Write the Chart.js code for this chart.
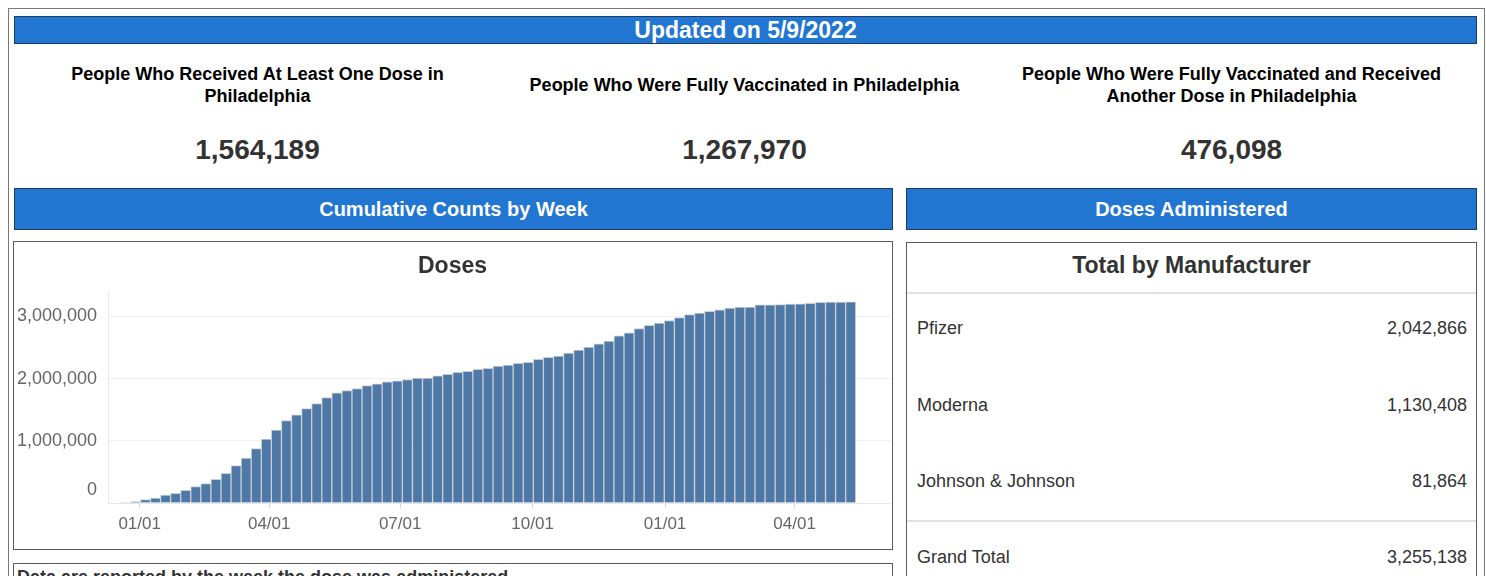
<!DOCTYPE html>
<html>
<head>
<meta charset="utf-8">
<script src="https://cdn.jsdelivr.net/npm/chart.js@4"></script>
<style>
	body { margin: 0; background: #fff; font-family: "Liberation Sans", Arial, sans-serif; }
	.abs { position: absolute; box-sizing: border-box; }
	.frame { left: 8px; top: 8px; width: 1477px; height: 600px; border: 1px solid #777; }
	.bluebar { background: #2176d2; border: 1px solid #1d3b63; color: #fff; font-weight: bold; text-align: center; }
	.kpi { width: 487px; text-align: center; }
	.kpi .ttl { height: 44px; display: flex; align-items: center; justify-content: center; font-size: 18px; font-weight: bold; line-height: 22px; color: #000; }
	.kpi .val { margin-top: 27px; font-size: 28px; font-weight: bold; color: #333; }
	.box { border: 1px solid #5a5a5a; background: #fff; }
	.row { left: 10px; right: 9px; font-size: 18px; color: #333; display: flex; justify-content: space-between; }
	.sep { left: 0; right: 0; height: 2px; background: #e2e2e2; }
</style>
</head>
<body>
<div class="abs frame"></div>

<div class="abs bluebar" style="left:14px;top:16px;width:1463px;height:28px;font-size:23px;line-height:26px;">Updated on 5/9/2022</div>

<div class="abs kpi" style="left:14px;top:63px;">
	<div class="ttl">People Who Received At Least One Dose in<br>Philadelphia</div>
	<div class="val" id="kpi1"></div>
</div>
<div class="abs kpi" style="left:501px;top:63px;">
	<div class="ttl">People Who Were Fully Vaccinated in Philadelphia</div>
	<div class="val" id="kpi2"></div>
</div>
<div class="abs kpi" style="left:988px;top:63px;">
	<div class="ttl">People Who Were Fully Vaccinated and Received<br>Another Dose in Philadelphia</div>
	<div class="val" id="kpi3"></div>
</div>

<div class="abs bluebar" style="left:14px;top:188px;width:879px;height:42px;font-size:20px;line-height:40px;">Cumulative Counts by Week</div>
<div class="abs bluebar" style="left:906px;top:188px;width:571px;height:42px;font-size:20px;line-height:40px;">Doses Administered</div>

<div class="abs box" style="left:13px;top:241px;width:880px;height:309px;">
	<canvas id="dose_chart" width="877" height="306"></canvas>
</div>

<div class="abs box" style="left:13px;top:563px;width:880px;height:60px;padding:3px 0 0 3px;font-size:18px;font-weight:bold;color:#333;">Data are reported by the week the dose was administered</div>

<div class="abs box" id="mfr_box" style="left:906px;top:242px;width:571px;height:400px;">
	<div class="abs" style="left:0;right:0;top:9px;text-align:center;font-size:23px;font-weight:bold;color:#333;">Total by Manufacturer</div>
	<div class="abs sep" style="top:49px;"></div>
	<div class="abs sep" style="top:277px;"></div>
</div>

<script>
// 상단 KPI
const kpiValues = [1564189, 1267970, 476098]

// 제조사별 합계
const mfrNames = ['Pfizer', 'Moderna', 'Johnson & Johnson', 'Grand Total']
const mfrDoses = [2042866, 1130408, 81864, 3255138]

// 주별 누적 접종 (첫 주 2020-12-22, 7일 간격)
const firstWeek = '2020-12-22'
const cumDoses = [
	8000, 20000, 54000, 81000, 129000, 156000, 205000, 264000, 312000, 382000,
	479000, 603000, 722000, 875000, 1030000, 1174000, 1325000, 1417000, 1519000, 1600000,
	1696000, 1772000, 1809000, 1842000, 1890000, 1917000, 1949000, 1966000, 1987000, 2008000,
	2010000, 2047000, 2068000, 2100000, 2116000, 2149000, 2165000, 2202000, 2218000, 2246000,
	2262000, 2310000, 2343000, 2364000, 2412000, 2461000, 2509000, 2558000, 2606000, 2687000,
	2736000, 2806000, 2859000, 2892000, 2935000, 2983000, 3032000, 3053000, 3081000, 3107000,
	3135000, 3150000, 3152000, 3188000, 3188000, 3190000, 3200000, 3205000, 3210000, 3226000,
	3230000, 3233000, 3236000
]

// x축 눈금
const tickDates = ['2021-01-01', '2021-04-01', '2021-07-01', '2021-10-01', '2022-01-01', '2022-04-01']
const tickLabels = ['01/01', '04/01', '07/01', '10/01', '01/01', '04/01']
const yTicks = [0, 1000000, 2000000, 3000000]

const fmt = n => n.toLocaleString('en-US')
const DAY = 86400000
const base = Date.parse('2021-01-01')
const dayOf = s => (Date.parse(s) - base) / DAY

document.getElementById('kpi1').textContent = fmt(kpiValues[0])
document.getElementById('kpi2').textContent = fmt(kpiValues[1])
document.getElementById('kpi3').textContent = fmt(kpiValues[2])

const rowTops = [75, 152, 228, 304]
const box = document.getElementById('mfr_box')
for (let i = 0; i < mfrNames.length; i++) {
	const r = document.createElement('div')
	r.className = 'abs row'
	r.style.top = rowTops[i] + 'px'
	r.innerHTML = '<span></span><span></span>'
	r.children[0].textContent = mfrNames[i]
	r.children[1].textContent = fmt(mfrDoses[i])
	box.appendChild(r)
}

const start = dayOf(firstWeek)
let points = []
for (let i = 0; i < cumDoses.length; i++) {
	points.push({ x: start + 7 * i, y: cumDoses[i] })
}
const tickDays = tickDates.map(dayOf)

const ctx = document.getElementById('dose_chart').getContext('2d')
const dose_chart = new Chart(ctx, {
	type: 'bar',
	data: {
		datasets: [{
			label: 'Doses',
			data: points,
			backgroundColor: '#4e79a7',
			borderColor: '#c8ced6',
			borderWidth: 1,
			barPercentage: 1,
			categoryPercentage: 1
		}]
	},
	options: {
		responsive: false,
		animation: false,
		layout: { padding: 0 },
		plugins: {
			legend: { display: false },
			tooltip: { enabled: false },
			title: {
				display: true,
				text: 'Doses',
				color: '#333',
				font: { family: 'Liberation Sans', size: 23, weight: 'bold' },
				padding: { top: 11, bottom: 11 }
			}
		},
		scales: {
			x: {
				type: 'linear',
				offset: false,
				min: -22,
				max: 522,
				afterBuildTicks: scale => { scale.ticks = tickDays.map(v => ({ value: v })) },
				afterFit: scale => { scale.height = 45 },
				ticks: {
					autoSkip: false,
					maxRotation: 0,
					padding: 6,
					color: '#666',
					font: { family: 'Liberation Sans', size: 17 },
					callback: (v, i) => tickLabels[i]
				},
				grid: { drawOnChartArea: false, tickLength: 5, color: '#d8d8d8', offset: false },
				border: { color: '#e6e6e6' }
			},
			y: {
				min: 0,
				max: 3400000,
				afterBuildTicks: scale => { scale.ticks = yTicks.map(v => ({ value: v })) },
				afterFit: scale => { scale.width = 94 },
				ticks: {
					padding: 11,
					color: '#666',
					font: { family: 'Liberation Sans', size: 18, lineHeight: 1.4 },
					callback: v => v === 0 ? ['0', ''] : fmt(v)
				},
				grid: { drawTicks: false, color: '#f0f0f0' },
				border: { color: '#ebebeb' }
			}
		}
	}
})
</script>
</body>
</html>
